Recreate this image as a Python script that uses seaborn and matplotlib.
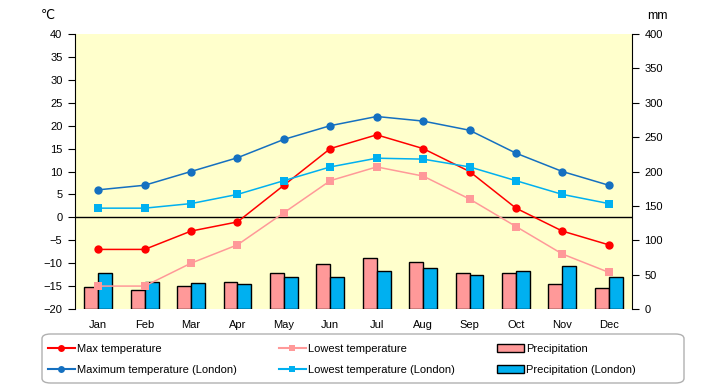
import numpy as np
import pandas as pd
import matplotlib
matplotlib.use("Agg")
import matplotlib.pyplot as plt
from matplotlib.lines import Line2D
from matplotlib.patches import Patch, FancyBboxPatch
import seaborn as sns

months = ["Jan", "Feb", "Mar", "Apr", "May", "Jun",
          "Jul", "Aug", "Sep", "Oct", "Nov", "Dec"]

# temperatures (deg C)
max_temp = [-7, -7, -3, -1, 7, 15, 18, 15, 10, 2, -3, -6]
low_temp = [-15, -15, -10, -6, 1, 8, 11, 9, 4, -2, -8, -12]
max_temp_london = [6, 7, 10, 13, 17, 20, 22, 21, 19, 14, 10, 7]
low_temp_london = [2, 2, 3, 5, 8, 11, 12.9, 12.7, 11, 8, 5, 3]

# precipitation (mm)
precip = [32, 28, 34, 39, 53, 66, 74, 69, 53, 53, 37, 30]
precip_london = [53, 40, 38, 37, 46, 46, 56, 59, 50, 56, 63, 47]

RED = "#FF0000"
PINK = "#FF9999"
DARKBLUE = "#1570C0"
LIGHTBLUE = "#00B0F0"

plt.rcParams["font.family"] = ["Liberation Sans", "DejaVu Sans"]
plt.rcParams["font.size"] = 8

W, H = 720, 385
fig = plt.figure(figsize=(W / 100, H / 100), dpi=100)
ax = fig.add_axes([75 / W, (H - 309) / H, (632 - 75) / W, (309 - 34) / H])
ax.set_facecolor("#FFFFCC")

# bars (right axis, mm)
prec = pd.DataFrame({
    "month": months * 2,
    "mm": precip + precip_london,
    "series": ["Precipitation"] * 12 + ["Precipitation (London)"] * 12,
})
sns.barplot(data=prec, x="month", y="mm", hue="series",
            palette=[PINK, LIGHTBLUE], edgecolor="black", linewidth=1,
            width=0.6, saturation=1, legend=False, ax=ax)
ax.set_ylim(0, 400)
ax.set_xlim(-0.5, 11.5)
ax.set_xlabel("")
ax.set_ylabel("")

# lines (left axis, deg C)
ax2 = ax.twinx()
names = ["Max temperature", "Lowest temperature",
         "Maximum temperature (London)", "Lowest temperature (London)"]
temps = pd.DataFrame({
    "idx": list(range(12)) * 4,
    "t": max_temp + low_temp + max_temp_london + low_temp_london,
    "series": sum([[n] * 12 for n in names], []),
})
colors = dict(zip(names, [RED, PINK, DARKBLUE, LIGHTBLUE]))
marks = dict(zip(names, ["o", "s", "o", "s"]))
sns.lineplot(data=temps, x="idx", y="t", hue="series", style="series",
             palette=colors, markers=marks, dashes=False, sort=False,
             markersize=6, markeredgewidth=0, linewidth=1.1,
             legend=False, ax=ax2)
ax2.axhline(0, color="black", lw=1, zorder=1)
ax2.set_ylim(-20, 40)
ax2.set_yticks(np.arange(-20, 41, 5))
ax2.set_xlim(-0.5, 11.5)
ax2.set_xlabel("")
ax2.set_ylabel("")

# twinx moves the original ticks to the left, so fix sides afterwards
ax.yaxis.tick_right()
ax.yaxis.set_label_position("right")
ax.set_yticks(np.arange(0, 401, 50))
ax2.yaxis.tick_left()
ax2.yaxis.set_label_position("left")

for a in (ax, ax2):
    for s in ("top", "bottom"):
        a.spines[s].set_visible(False)
ax.spines["left"].set_visible(False)
ax2.spines["right"].set_visible(False)
ax.spines["right"].set_visible(True)
ax.spines["right"].set_color("black")
ax2.spines["left"].set_visible(True)
ax2.spines["left"].set_color("black")

ax.set_xticks(range(12))
ax.set_xticklabels(months)
ax.tick_params(axis="x", length=0, pad=8, labelsize=8)
ax.tick_params(axis="y", which="both", left=False, labelleft=False,
               right=True, labelright=True, length=5, pad=4, labelsize=8)
ax2.tick_params(axis="y", which="both", right=False, labelright=False,
                left=True, labelleft=True, length=5, pad=4, labelsize=8)

fig.text(48 / W, 1 - 16 / H, "\u2103", ha="center", va="center", fontsize=9)
fig.text(657 / W, 1 - 16 / H, "mm", ha="center", va="center", fontsize=9)

# legend
box = FancyBboxPatch((42 / W, 2 / H), 642 / W, 49 / H,
                     boxstyle="round,pad=0,rounding_size=0.012",
                     transform=fig.transFigure, facecolor="white",
                     edgecolor="#B0B0B0", lw=1)
fig.patches.append(box)

handles = [
    Line2D([], [], color=RED, marker="o", markersize=5, mew=0),
    Line2D([], [], color=DARKBLUE, marker="o", markersize=5, mew=0),
    Line2D([], [], color=PINK, marker="s", markersize=5, mew=0),
    Line2D([], [], color=LIGHTBLUE, marker="s", markersize=5, mew=0),
    Patch(facecolor=PINK, edgecolor="black", lw=1),
    Patch(facecolor=LIGHTBLUE, edgecolor="black", lw=1),
]
labels = ["Max temperature", "Maximum temperature (London)",
          "Lowest temperature", "Lowest temperature (London)",
          "Precipitation", "Precipitation (London)"]
fig.legend(handles, labels, ncol=3, loc="center left",
           bbox_to_anchor=(48 / W, 1 - 359.5 / H), frameon=False,
           fontsize=8, handlelength=2.4, handletextpad=0.2,
           columnspacing=3.8, labelspacing=1.0, borderpad=0,
           borderaxespad=0)

fig.savefig("out.png", dpi=100)
